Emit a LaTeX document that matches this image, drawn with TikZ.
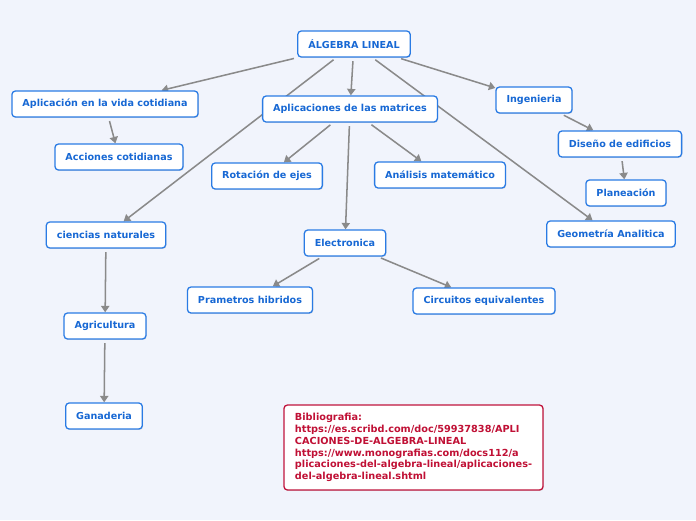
\documentclass[tikz,border=0pt]{standalone}
\usepackage{fontspec}
\setmainfont{DejaVu Sans}
\usetikzlibrary{arrows.meta,backgrounds,shadows}
\definecolor{mapbg}{HTML}{F1F4FC}
\definecolor{mapblue}{HTML}{2A7BE4}
\definecolor{maptext}{HTML}{1768D4}
\definecolor{linkgray}{HTML}{8A8A8A}
\definecolor{bibred}{HTML}{C0143C}
\definecolor{bibtext}{HTML}{C01035}
\begin{document}
\begin{tikzpicture}[x=0.03cm,y=-0.03cm,font=\bfseries\fontsize{8.2}{10}\selectfont,
  topic/.style={draw=mapblue,line width=1.1pt,fill=white,rounded corners=3pt,text=maptext,minimum height=0.78cm,inner xsep=9pt,drop shadow={opacity=0.25,shadow xshift=0.6pt,shadow yshift=-0.8pt}},
  note/.style={topic,draw=bibred,text=bibtext,align=left,minimum height=2.55cm,inner xsep=0.33cm,font=\bfseries\fontsize{8.3}{10}\selectfont},
  link/.style={linkgray,line width=1.3pt,-{Triangle[width=7pt,length=5.5pt]},shorten <=3pt}]
\node[topic] (alg) at (354,44) {ÁLGEBRA LINEAL};
\node[topic] (vida) at (105,104) {Aplicación en la vida cotidiana};
\node[topic] (acc) at (119,157) {Acciones cotidianas};
\node[topic] (mat) at (350,109) {Aplicaciones de las matrices};
\node[topic] (ing) at (534,100) {Ingenieria};
\node[topic] (dis) at (620,144) {Diseño de edificios};
\node[topic] (plan) at (626,193) {Planeación};
\node[topic] (geo) at (611,234) {Geometría Analitica};
\node[topic] (rot) at (267,176) {Rotación de ejes};
\node[topic] (ana) at (440,175) {Análisis matemático};
\node[topic] (cien) at (106,235) {ciencias naturales};
\node[topic] (elec) at (345,243) {Electronica};
\node[topic] (hib) at (250,300) {Prametros hibridos};
\node[topic] (circ) at (484,301) {Circuitos equivalentes};
\node[topic] (agri) at (105,326) {Agricultura};
\node[topic] (gan) at (104,416) {Ganaderia};
\node[note] (bib) at (413.5,447.5) {Bibliografia:\\https://es.scribd.com/doc/59937838/APLI\\CACIONES-DE-ALGEBRA-LINEAL\\https://www.monografias.com/docs112/a\\plicaciones-del-algebra-lineal/aplicaciones-\\del-algebra-lineal.shtml};
\begin{scope}[on background layer]
\fill[mapbg] (0,0) rectangle (696,520);
\draw[link] (alg) -- (vida);
\draw[link] (alg) -- (cien);
\draw[link] (alg) -- (mat);
\draw[link] (alg) -- (geo);
\draw[link] (alg) -- (ing);
\draw[link] (vida) -- (acc);
\draw[link] (mat) -- (rot);
\draw[link] (mat) -- (ana);
\draw[link] (mat) -- (elec);
\draw[link] (elec) -- (hib);
\draw[link] (elec) -- (circ);
\draw[link] (ing) -- (dis);
\draw[link] (dis) -- (plan);
\draw[link] (cien) -- (agri);
\draw[link] (agri) -- (gan);
\end{scope}
\end{tikzpicture}
\end{document}
